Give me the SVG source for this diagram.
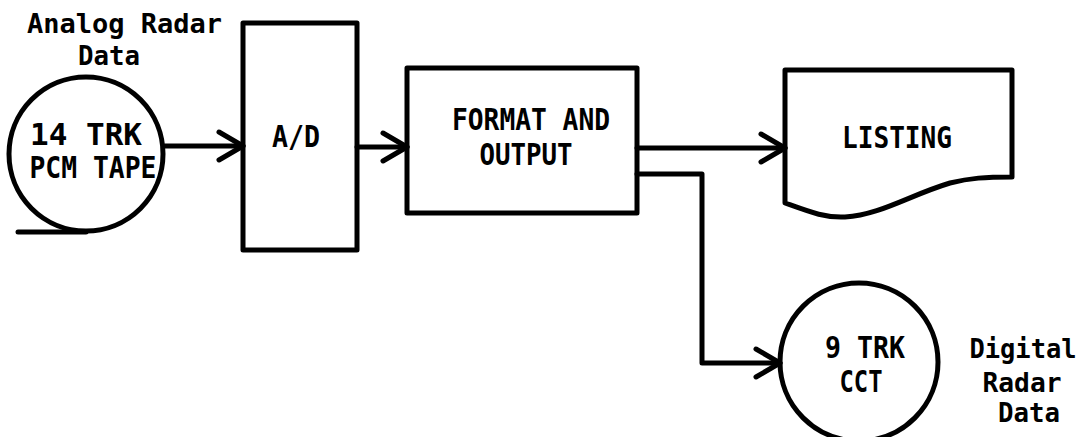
<svg xmlns="http://www.w3.org/2000/svg" width="1085" height="437" viewBox="0 0 1085 437">
<defs>
<style>
.s{fill:none;stroke:#000;stroke-width:5;stroke-linejoin:round;stroke-linecap:round}
.n{fill:#fff;stroke:#000;stroke-width:5;stroke-linejoin:round}
.t{font-family:"DejaVu Sans Mono","Liberation Mono",monospace;font-weight:bold;font-size:27px;fill:#000;text-anchor:middle}
</style>
<marker id="ah" markerUnits="userSpaceOnUse" markerWidth="40" markerHeight="40" refX="0" refY="0" viewBox="-30 -20 40 40" orient="auto" overflow="visible">
<path d="M-24,-14 L0,0 L-24,14" fill="none" stroke="#000" stroke-width="5" stroke-linecap="round" stroke-linejoin="round"/>
</marker>
</defs>
<rect width="1085" height="437" fill="#fff"/>
<g id="label-analog">
<text class="t" x="124.5" y="33" textLength="195" lengthAdjust="spacingAndGlyphs">Analog Radar</text>
<text class="t" x="109" y="65" textLength="62" lengthAdjust="spacingAndGlyphs">Data</text>
</g>
<g id="tape">
<circle class="n" cx="86" cy="154" r="77"/>
<path class="s" d="M18,232 H86"/>
<text class="t" x="86" y="145" textLength="112" lengthAdjust="spacingAndGlyphs" style="font-size:30px">14 TRK</text>
<text class="t" x="93" y="178" textLength="127" lengthAdjust="spacingAndGlyphs" style="font-size:30px">PCM TAPE</text>
</g>
<g id="ad">
<rect class="n" x="243" y="23" width="114" height="227"/>
<text class="t" x="296" y="147" textLength="48" lengthAdjust="spacingAndGlyphs" style="font-size:30px">A/D</text>
</g>
<g id="format">
<rect class="n" x="407" y="68" width="230" height="145"/>
<text class="t" x="531" y="130" textLength="158" lengthAdjust="spacingAndGlyphs" style="font-size:30px">FORMAT AND</text>
<text class="t" x="526" y="165" textLength="93" lengthAdjust="spacingAndGlyphs" style="font-size:30px">OUTPUT</text>
</g>
<g id="listing">
<path class="n" d="M785,70 H1012 V177 C985,177 970,178 950,183 C910,195 880,215 845,217 C825,218 810,212 785,203 Z"/>
<text class="t" x="897" y="148" textLength="110" lengthAdjust="spacingAndGlyphs" style="font-size:30px">LISTING</text>
</g>
<g id="cct">
<circle class="n" cx="859" cy="362" r="79"/>
<text class="t" x="865" y="358" textLength="80" lengthAdjust="spacingAndGlyphs" style="font-size:30px">9 TRK</text>
<text class="t" x="861" y="392" textLength="43" lengthAdjust="spacingAndGlyphs" style="font-size:30px">CCT</text>
</g>
<g id="label-digital">
<text class="t" x="1023" y="358" textLength="107" lengthAdjust="spacingAndGlyphs">Digital</text>
<text class="t" x="1022" y="392" textLength="79" lengthAdjust="spacingAndGlyphs">Radar</text>
<text class="t" x="1029" y="422" textLength="62" lengthAdjust="spacingAndGlyphs">Data</text>
</g>
<g id="connectors">
<path class="s" d="M165,146 H243" marker-end="url(#ah)"/>
<path class="s" d="M357,147 H407" marker-end="url(#ah)"/>
<path class="s" d="M637,148 H785" marker-end="url(#ah)"/>
<path class="s" d="M637,174 H702 V363 H780" marker-end="url(#ah)"/>
</g>
</svg>
